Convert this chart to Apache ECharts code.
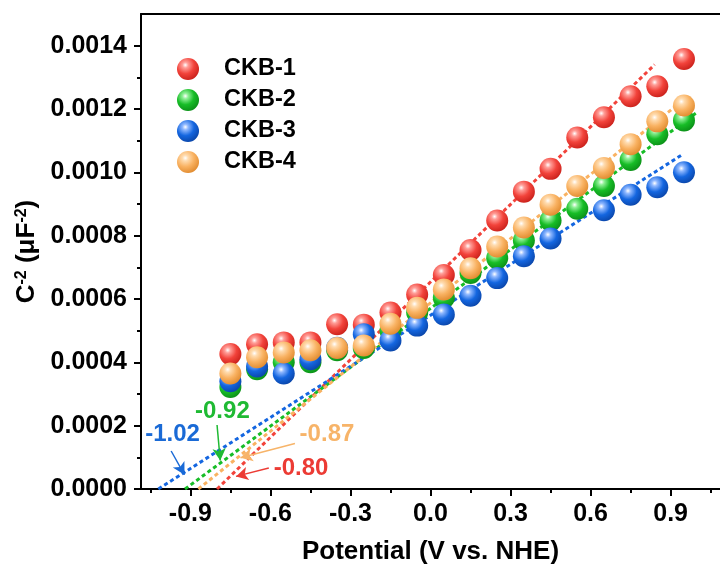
<!DOCTYPE html>
<html><head><meta charset="utf-8">
<script src="https://cdn.jsdelivr.net/npm/echarts@6/dist/echarts.min.js"></script>
<style>html,body{margin:0;padding:0;background:#fff}#c{width:720px;height:570px}</style>
</head><body><div id="c"></div>
<script>
// ---- data ----
const potentials = [-0.75,-0.65,-0.55,-0.45,-0.35,-0.25,-0.15,-0.05,0.05,0.15,0.25,0.35,0.45,0.55,0.65,0.75,0.85,0.95];
const ckb1 = [0.000426,0.000457,0.000463,0.000463,0.000520,0.000519,0.000557,0.000614,0.000676,0.000755,0.000848,0.000939,0.001011,0.001110,0.001174,0.001240,0.001272,0.001358];
const ckb2 = [0.000322,0.000378,0.000400,0.000400,0.000438,0.000445,0.000500,0.000557,0.000604,0.000682,0.000729,0.000785,0.000848,0.000885,0.000957,0.001039,0.001120,0.001164];
const ckb3 = [0.000340,0.000387,0.000365,0.000410,0.000446,0.000489,0.000469,0.000516,0.000551,0.000610,0.000666,0.000735,0.000791,null,0.000880,0.000929,0.000953,0.001000];
const ckb4 = [0.000365,0.000416,0.000431,0.000438,0.000445,0.000453,0.000522,0.000572,0.000630,0.000697,0.000766,0.000826,0.000898,0.000957,0.001014,0.001089,0.001161,0.001211];
const seriesNames = ['CKB-1','CKB-2','CKB-3','CKB-4'];
const seriesValues = [ckb1, ckb2, ckb3, ckb4];

// linear fits (x-intercept, end x, end y)
const fitStartX = [-0.80,-0.92,-1.02,-0.87];
const fitEndX = [0.84,1.00,0.94,0.95];
const fitEndY = [0.00134,0.00119,0.001054,0.00123];

// intercept annotations
const annText = ['-0.80','-0.92','-1.02','-0.87'];
const annX = [-0.485,-0.780,-0.967,-0.388];
const annY = [0.0000648,0.000246,0.000174,0.000171];
const arrowFromX = [-0.606,-0.800,-0.972,-0.508];
const arrowFromY = [0.0000660,0.000202,0.000120,0.000144];
const arrowToX = [-0.729,-0.788,-0.922,-0.712];
const arrowToY = [0.0000398,0.0000900,0.0000450,0.0000985];

// axis ticks
const xTicks = [-0.9,-0.6,-0.3,0,0.3,0.6,0.9];
const xMinorTicks = [-1.05,-0.75,-0.45,-0.15,0.15,0.45,0.75,1.05];
const yTicks = [0,0.0002,0.0004,0.0006,0.0008,0.0010,0.0012,0.0014];
const yMinorTicks = [0.0001,0.0003,0.0005,0.0007,0.0009,0.0011,0.0013];

// ---- style ----
const FONT = '"Liberation Sans", Arial, sans-serif';
const baseColors = ['#f2433b','#17bd27','#1466e0','#f9b262'];
const darkColors = ['#c9201a','#0b8f17','#0a45a8','#e08a2e'];
const lightColors = ['#ff9e98','#8ff096','#8fb8ff','#ffdcb0'];
const textColors = ['#ec3b34','#1fba33','#1a6ad6','#f7b469'];

function sphere(i){
  return {type:'radial', x:0.38, y:0.32, r:0.72, colorStops:[
    {offset:0, color:'#ffffff'},
    {offset:0.18, color:lightColors[i]},
    {offset:0.55, color:baseColors[i]},
    {offset:1, color:darkColors[i]}
  ]};
}

const X_MIN = -1.085, X_MAX = 1.085;
const series = [];
// fit lines (under points)
for (let i=0;i<4;i++){
  series.push({
    type:'line', silent:true, z:1,
    data:[[fitStartX[i],0],[fitEndX[i],fitEndY[i]]],
    symbol:'none',
    lineStyle:{color:baseColors[i], width:3, type:[4,3]},
    markLine:{
      silent:true, symbol:['none','arrow'], symbolSize:[10,12],
      label:{show:false},
      lineStyle:{color:textColors[i], width:1.5, type:'solid'},
      data:[[{coord:[arrowFromX[i],arrowFromY[i]]},{coord:[arrowToX[i],arrowToY[i]]}]]
    }
  });
}
for (let i=0;i<4;i++){
  const d = [];
  potentials.forEach((p,k)=>{ if (seriesValues[i][k]!=null) d.push([p, seriesValues[i][k]]); });
  series.push({
    name:seriesNames[i], type:'scatter', z:3+i,
    data:d, symbolSize:22,
    itemStyle:{color:sphere(i), opacity:1}
  });
}

const axisLabelStyle = {color:'#000', fontSize:25, fontWeight:'bold', fontFamily:FONT};
const option = {
  animation:false,
  backgroundColor:'#fff',
  grid:{left:141, right:-24, top:14, bottom:77, containLabel:false},
  legend:{
    data:seriesNames, orient:'vertical', left:177, top:57, padding:0,
    itemWidth:22, itemHeight:22, itemGap:7, icon:'circle',
    textStyle:{color:'#000', fontSize:23.5, fontWeight:'bold', fontFamily:FONT, padding:[0,0,0,20]}
  },
  xAxis:[
    {type:'value', min:X_MIN, max:X_MAX, position:'bottom',
     name:'Potential (V vs. NHE)', nameLocation:'middle', nameGap:50,
     nameTextStyle:{color:'#000', fontSize:26, fontWeight:'bold', fontFamily:FONT},
     axisLine:{show:true, onZero:false, lineStyle:{color:'#000', width:2}},
     axisTick:{show:true, inside:false, length:7, lineStyle:{color:'#000', width:2}, customValues:xTicks},
     axisLabel:{show:true, margin:13, customValues:xTicks, formatter:v=>v.toFixed(1), ...axisLabelStyle},
     splitLine:{show:false}},
    {type:'value', min:X_MIN, max:X_MAX, position:'bottom',
     axisLine:{show:false, onZero:false},
     axisTick:{show:true, inside:false, length:4, lineStyle:{color:'#000', width:2}, customValues:xMinorTicks},
     axisLabel:{show:false}, splitLine:{show:false}},
    {type:'value', min:X_MIN, max:X_MAX, position:'top',
     axisLine:{show:true, onZero:false, lineStyle:{color:'#000', width:2}},
     axisTick:{show:false}, axisLabel:{show:false}, splitLine:{show:false}}
  ],
  yAxis:[
    {type:'value', min:0, max:0.0015, position:'left',
     name:'{a|C}{s|-2}{a| (μF}{s|-2}{a|)}', nameLocation:'middle', nameGap:97, nameRotate:90,
     nameTextStyle:{rich:{
       a:{color:'#000', fontSize:26, fontWeight:'bold', fontFamily:FONT},
       s:{color:'#000', fontSize:16, fontWeight:'bold', fontFamily:FONT, verticalAlign:'top'}
     }},
     axisLine:{show:true, onZero:false, lineStyle:{color:'#000', width:2}},
     axisTick:{show:true, inside:false, length:7, lineStyle:{color:'#000', width:2}, customValues:yTicks},
     axisLabel:{show:true, margin:14, customValues:yTicks, formatter:v=>v.toFixed(4), ...axisLabelStyle},
     splitLine:{show:false}},
    {type:'value', min:0, max:0.0015, position:'left',
     axisLine:{show:false, onZero:false},
     axisTick:{show:true, inside:false, length:4, lineStyle:{color:'#000', width:2}, customValues:yMinorTicks},
     axisLabel:{show:false}, splitLine:{show:false}},
    {type:'value', min:0, max:0.0015, position:'right',
     axisLine:{show:false, onZero:false}, axisTick:{show:false}, axisLabel:{show:false}, splitLine:{show:false}}
  ],
  series:series
};

const chart = echarts.init(document.getElementById('c'), null, {renderer:'canvas'});
chart.setOption(option);

const graphics = [];
for (let i=0;i<4;i++){
  const p = chart.convertToPixel({xAxisIndex:0, yAxisIndex:0}, [annX[i], annY[i]]);
  graphics.push({
    type:'text', z:20,
    style:{text:annText[i], x:p[0], y:p[1], fill:textColors[i],
      font:'bold 24px ' + FONT, textAlign:'center', textVerticalAlign:'middle',
      align:'center', verticalAlign:'middle'}
  });
}
chart.setOption({graphic:graphics});
</script></body></html>
